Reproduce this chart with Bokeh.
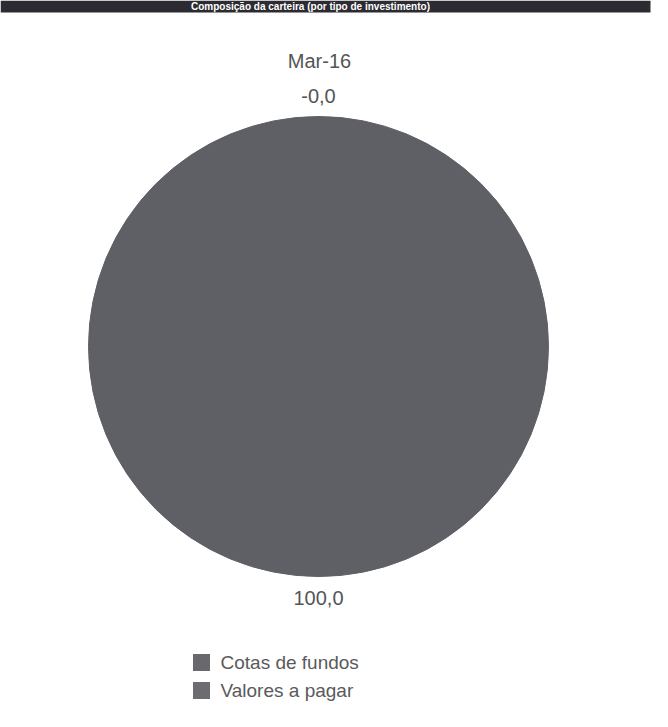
import math
from bokeh.plotting import figure
from bokeh.models import Range1d
from bokeh.core.properties import value
from bokeh.embed import file_html
from bokeh.resources import INLINE

# ---- data ----
title_text = "Composição da carteira (por tipo de investimento)"
period = "Mar-16"
categories = ["Cotas de fundos", "Valores a pagar"]
values = [100.0, -0.0]
colors = ["#5f5f66", "#5f5f66"]
legend_colors = ["#68686d", "#6c6c71"]

W, H = 652, 711
p = figure(width=W, height=H, output_backend="svg", toolbar_location=None,
           x_range=Range1d(0, W), y_range=Range1d(0, H), min_border=0,
           outline_line_color=None, background_fill_color="white",
           border_fill_color="white")
p.axis.visible = False
p.grid.visible = False

# top title band (cut off in the reference; kept small so the text fits)
p.quad(left=[0], right=[650], bottom=[H - 12], top=[H], fill_color="#2b2b31", line_color=None)
p.text(x=[W / 2 - 16], y=[H - 6], text=[title_text], text_align="center",
       text_baseline="middle", text_font=value("Liberation Sans"),
       text_font_style="bold", text_font_size="10px", text_color="white")

# pie
cx, cy, R = 318, 365, 230
total = sum(abs(v) for v in values)
cum = 0.0
lab_x, lab_y, lab_t = [], [], []
ws, we, wc = [], [], []
for v, c in zip(values, colors):
    frac = abs(v) / total
    a0 = math.pi / 2 - 2 * math.pi * cum
    a1 = math.pi / 2 - 2 * math.pi * (cum + frac)
    mid = (a0 + a1) / 2
    if frac > 0:
        ws += [mid, a1]
        we += [a0, mid]
        wc += [c, c]
    lr = R + 21
    lab_x.append(cx + lr * math.cos(mid))
    lab_y.append(cy + lr * math.sin(mid))
    lab_t.append(f"{v:.1f}".replace(".", ","))
    cum += frac

p.wedge(x=cx, y=cy, radius=R, start_angle=ws, end_angle=we,
        fill_color=wc, line_color=wc, line_width=1)

p.text(x=lab_x, y=lab_y, text=lab_t, text_align="center", text_baseline="middle",
       text_font=value("Liberation Sans"), text_font_size="20px", text_color="#555555")
p.text(x=[319], y=[651], text=[period], text_align="center", text_baseline="middle",
       text_font=value("Liberation Sans"), text_font_size="20px", text_color="#555555")

# legend
ly = [49 - 28 * i for i in range(len(categories))]
p.rect(x=[201] * len(categories), y=ly, width=17, height=17,
       fill_color=legend_colors, line_color=None)
p.text(x=[220] * len(categories), y=ly, text=categories, text_align="left",
       text_baseline="middle", text_font=value("Liberation Sans"),
       text_font_size="19px", text_color="#5a5a5a")

open("out.html", "w").write(file_html(p, INLINE))
